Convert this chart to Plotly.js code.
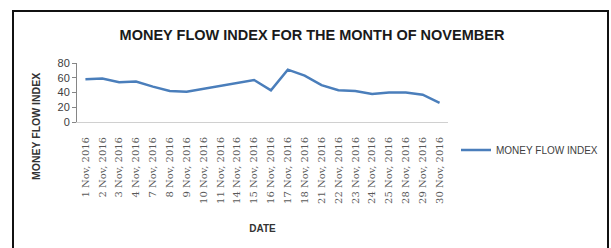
<!DOCTYPE html>
<html>
<head>
<meta charset="utf-8">
<script src="https://cdn.plot.ly/plotly-3.0.1.min.js"></script>
<style>
html,body{margin:0;padding:0;background:#fff;}
#chart{width:611px;height:248px;}
</style>
</head>
<body>
<div id="chart"></div>
<script>
const dates = ["1 Nov, 2016","2 Nov, 2016","3 Nov, 2016","4 Nov, 2016","7 Nov, 2016","8 Nov, 2016","9 Nov, 2016","10 Nov, 2016","11 Nov, 2016","14 Nov, 2016","15 Nov, 2016","16 Nov, 2016","17 Nov, 2016","18 Nov, 2016","21 Nov, 2016","22 Nov, 2016","23 Nov, 2016","24 Nov, 2016","25 Nov, 2016","28 Nov, 2016","29 Nov, 2016","30 Nov, 2016"];
const mfi = [58,59,54,55,48,42,41,45,48,53,57,43,71,63,50,43,42,38,40,40,37,26];
const seriesName = "MONEY FLOW INDEX";
const yTicks = [0,20,40,60,80];

const W = 611, H = 248;
const M = {l:77, r:163, t:63, b:126, autoexpand: false};
const pw = W - M.l - M.r, ph = H - M.t - M.b;
const px = x => (x - M.l) / pw;
const py = y => (H - M.b - y) / ph;

const trace = {
  x: dates, y: mfi, type: 'scatter', mode: 'lines', name: seriesName,
  line: {color: '#4a7ebb', width: 2.5, shape: 'linear'},
  hoverinfo: 'x+y'
};

const layout = {
  width: W, height: H,
  margin: M,
  paper_bgcolor: '#fff', plot_bgcolor: '#fff',
  font: {family: 'Liberation Sans, Arial, sans-serif', color: '#404040'},
  title: {text: '<b>MONEY FLOW INDEX FOR THE MONTH OF NOVEMBER</b>', font: {size: 14.5, color: '#1a1a1a', family: 'Liberation Sans, sans-serif'}, xref: 'container', x: 312 / W, xanchor: 'center', yref: 'container', y: 1 - 35 / H, yanchor: 'middle'},
  showlegend: true,
  legend: {x: px(456), xanchor: 'left', y: py(150), yanchor: 'middle', font: {size: 10, color: '#404040', family: 'Liberation Sans, sans-serif'}, bgcolor: 'rgba(0,0,0,0)', itemwidth: 30},
  xaxis: {
    type: 'category', range: [-0.5, dates.length - 0.5],
    showline: true, linecolor: '#d0d0d0', linewidth: 1,
    showgrid: false, zeroline: false, ticks: '',
    tickangle: -90, ticklabelstandoff: 10,
    tickfont: {family: 'DejaVu Serif, serif', size: 10, color: '#595959'},
    title: {text: '<b>DATE</b>', font: {size: 10, color: '#333', family: 'Liberation Sans, sans-serif'}, standoff: 22}
  },
  yaxis: {
    range: [0, 80], tickvals: yTicks, ticktext: yTicks.map(String),
    showline: true, linecolor: '#868686', linewidth: 1,
    ticks: 'outside', ticklen: 4, tickcolor: '#868686',
    showgrid: false, zeroline: false,
    tickfont: {size: 11, color: '#404040', family: 'Liberation Sans, sans-serif'}
  },
  annotations: [{
    text: '<b>MONEY FLOW INDEX</b>', textangle: -90, showarrow: false,
    xref: 'paper', yref: 'paper', x: px(36), y: py(127), xanchor: 'center', yanchor: 'middle',
    font: {size: 10.5, color: '#333', family: 'Liberation Sans, sans-serif'}
  }],
  shapes: [{
    type: 'rect', xref: 'paper', yref: 'paper',
    x0: px(13), x1: px(608), y0: py(260), y1: py(11),
    line: {color: '#111', width: 2}, fillcolor: 'rgba(0,0,0,0)', layer: 'below'
  }]
};

Plotly.newPlot('chart', [trace], layout, {displayModeBar: false, staticPlot: true});
</script>
</body>
</html>
